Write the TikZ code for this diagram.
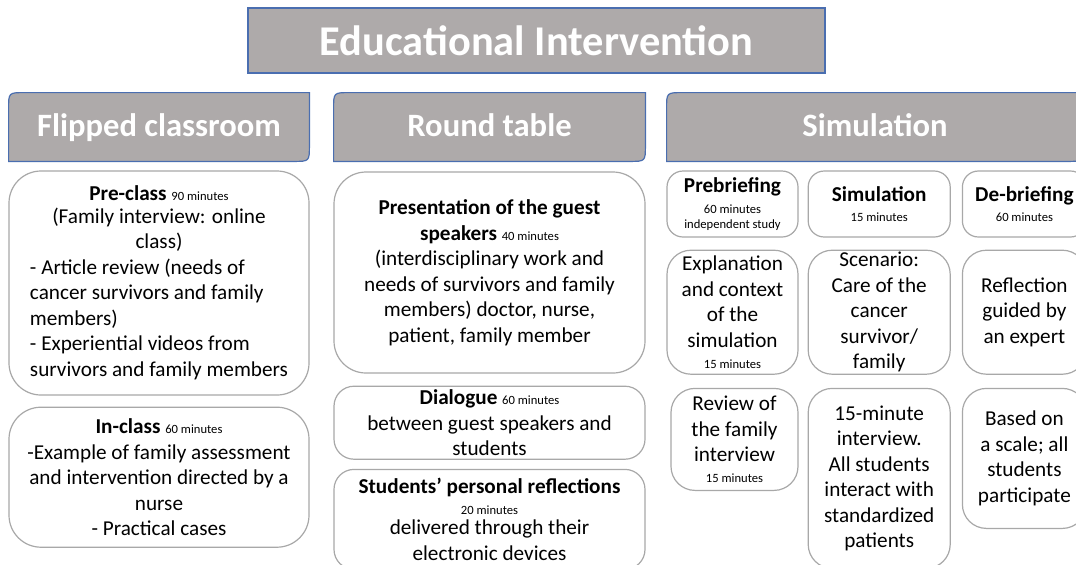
\documentclass[tikz,border=0pt]{standalone}
\usepackage{fontspec}
\setmainfont{Carlito}
\usetikzlibrary{positioning, backgrounds}

\definecolor{boxgray}{HTML}{AEAAAA}
\definecolor{edgeblue}{HTML}{4A6EB0}
\definecolor{cardline}{HTML}{A8A8A8}
\newcommand{\durfont}{\fontsize{6.3}{7.5}\selectfont}
\newcommand{\midline}[1]{\multicolumn{1}{@{}c@{}}{#1}}

\begin{document}
\begin{tikzpicture}[x=0.5pt, y=-0.5pt,
    maintitle/.style={rectangle, draw=edgeblue, fill=boxgray, line width=0.6pt, text=white,
        font=\fontsize{21.2}{25}\selectfont\bfseries, minimum width=288.5pt, minimum height=32.5pt},
    header/.style={rectangle, text=white, font=\fontsize{16.3}{20}\selectfont\bfseries,
        text height=0.9em, text depth=0pt, minimum height=34pt},
    hdrshape/.style={draw=edgeblue, fill=boxgray, line width=0.6pt},
    card/.style={rectangle, draw=cardline, line width=0.6pt, fill=white, rounded corners=16pt,
        align=center, inner sep=1pt, font=\fontsize{10.6}{12.75}\selectfont},
    minicard/.style={card, rounded corners=8pt}]
    \useasboundingbox (0,0) rectangle (1076,564);
    \clip (0,0) rectangle (1076,564);

    % Title
    \node (title) [maintitle] at (536.5,40.5) {Educational Intervention};

    % Column headers
    \node (flipped) [header, minimum width=150pt] at (159,127) {Flipped classroom};
    \node (roundtab) [header, minimum width=155.5pt] at (489.5,127) {Round table};
    \node (simhead) [header, minimum width=208pt] at (875,127) {Simulation};

    % Flipped classroom
    \node (preclass) [card, minimum width=150pt, minimum height=112pt] at (159,283)
        {\begin{tabular}{@{}l@{}}
            \midline{\textbf{Pre-class} {\durfont 90 minutes}}\\[-1.2pt]
            \midline{(Family interview: online}\\
            \midline{class)}\\
            - Article review (needs of\\
            cancer survivors and family\\
            members)\\
            - Experiential videos from\\
            survivors and family members
         \end{tabular}};
    \node (inclass) [card, minimum width=150pt, minimum height=70pt, below=5.5pt of preclass]
        {\textbf{In-class} {\durfont 60 minutes}\\-Example of family assessment\\and intervention directed by a\\nurse\\- Practical cases};

    % Round table
    \node (present) [card, minimum width=155.5pt, minimum height=100.5pt] at (489.5,272.5)
        {\textbf{Presentation of the guest}\\\textbf{speakers} {\durfont 40 minutes}\\(interdisciplinary work and\\needs of survivors and family\\members) doctor, nurse,\\patient, family member};
    \node (dialogue) [card, minimum width=155.5pt, minimum height=36.5pt, rounded corners=10pt, below=6pt of present]
        {\textbf{Dialogue} {\durfont 60 minutes}\\between guest speakers and\\students};
    \node (studrefl) [card, minimum width=155.5pt, minimum height=50pt, rounded corners=10pt, below=4.5pt of dialogue]
        {\textbf{Students' personal reflections}\\[-2.2pt]{\durfont 20 minutes}\\[-2.7pt]delivered through their\\electronic devices};

    % Simulation
    \node (prebrief) [minicard, minimum width=65.5pt, minimum height=33pt] at (732.5,204)
        {\textbf{Prebriefing}\\[-2.2pt]{\durfont 60 minutes}\\[-5.2pt]{\durfont independent study}};
    \node (simstep) [minicard, minimum width=71pt, minimum height=33pt, right=4.5pt of prebrief]
        {\textbf{Simulation}\\[-2.7pt]{\durfont 15 minutes}};
    \node (debrief) [minicard, minimum width=62pt, minimum height=33pt, right=5.5pt of simstep]
        {\textbf{De-briefing}\\[-2.7pt]{\durfont 60 minutes}};

    \node (explain) [card, minimum width=65.5pt, minimum height=62pt, rounded corners=12pt, below=6pt of prebrief]
        {Explanation\\and context\\of the\\simulation\\[-2.2pt]{\durfont 15 minutes}};
    \node (scenario) [card, minimum width=71pt, minimum height=62pt, rounded corners=12pt, below=6pt of simstep]
        {Scenario:\\Care of the\\cancer\\survivor/\\family};
    \node (guided) [card, minimum width=62pt, minimum height=62pt, rounded corners=12pt, below=6pt of debrief]
        {Reflection\\guided by\\an expert};

    \node (review) [card, minimum width=63.5pt, minimum height=51pt, rounded corners=12pt, below=6.5pt of explain, xshift=1pt]
        {Review of\\the family\\interview\\[-2.2pt]{\durfont 15 minutes}};
    \node (interview) [card, minimum width=71pt, minimum height=90pt, rounded corners=12pt, below=6.5pt of scenario]
        {15-minute\\interview.\\All students\\interact with\\standardized\\patients};
    \node (scale) [card, minimum width=62pt, minimum height=70pt, rounded corners=12pt, below=6.5pt of guided]
        {Based on\\a scale; all\\students\\participate};

    % Header shapes, rounded on two opposite corners
    \begin{scope}[on background layer]
        \clip (0,0) rectangle (1076,564);
        \foreach \h in {flipped, roundtab, simhead}
            \path[hdrshape] (\h.south west) -- ([yshift=-8pt]\h.north west)
                .. controls (\h.north west) .. ([xshift=8pt]\h.north west) -- (\h.north east)
                -- ([yshift=8pt]\h.south east) .. controls (\h.south east) .. ([xshift=-8pt]\h.south east) -- cycle;
    \end{scope}
\end{tikzpicture}
\end{document}
